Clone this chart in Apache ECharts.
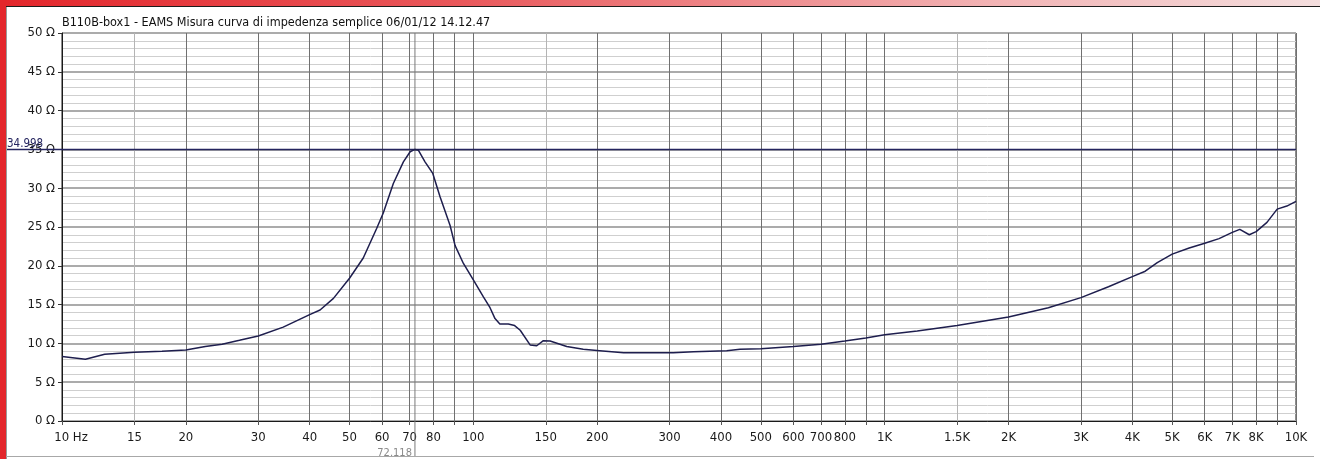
<!DOCTYPE html>
<html>
<head>
<meta charset="utf-8">
<script src="https://cdn.jsdelivr.net/npm/echarts@6/dist/echarts.min.js"></script>
<style>
html,body{margin:0;padding:0;background:#fff;}
#wrap{position:relative;width:1320px;height:459px;overflow:hidden;background:#fff;}
#chart{position:absolute;left:0;top:0;width:1320px;height:459px;}
.deco{position:absolute;pointer-events:none;}
#topbar{left:0;top:0;width:1320px;height:6px;background:linear-gradient(to right,#e3262b 0%,#e9585b 35%,#f2b3b4 75%,#f4dede 100%);}
#topline{left:6px;top:6px;width:1314px;height:1px;background:#1c1c1c;}
#leftbar{left:0;top:0;width:6px;height:459px;background:#e3262b;}
#leftline{left:6px;top:7px;width:1px;height:452px;background:#9a9a9a;}
#bottomline{left:6px;top:456px;width:1308px;height:1px;background:#a8a8a8;}
</style>
</head>
<body>
<div id="wrap">
  <div id="chart"></div>
  <div class="deco" id="topbar"></div>
  <div class="deco" id="topline"></div>
  <div class="deco" id="leftbar"></div>
  <div class="deco" id="leftline"></div>
  <div class="deco" id="bottomline"></div>
</div>
<script>
// ---- data ----
const titleText = 'B110B-box1 - EAMS Misura curva di impedenza semplice 06/01/12 14.12.47';

const freqHz = [10, 11.4, 12.7, 15, 17.5, 20, 22.3, 24.5, 27, 30, 34.5, 40, 42.4, 45.7, 50, 54, 58.2, 60.4, 63.9, 67.6, 70.2, 72.118, 73.5, 76.3, 79.7, 83, 87.8, 90.3, 94.6, 100, 105.8, 109.8, 112.9, 116, 121.6, 126, 130, 137.4, 142.6, 148, 153.7, 168.7, 185, 203, 232, 306, 343, 413, 445, 500, 600, 700, 800, 900, 1000, 1200, 1500, 2000, 2500, 3000, 3500, 4000, 4300, 4600, 5000, 5500, 6000, 6500, 7000, 7300, 7700, 8000, 8500, 9000, 9500, 10000];
const impedanceOhm = [8.3, 7.95, 8.6, 8.85, 9.0, 9.15, 9.6, 9.9, 10.4, 10.95, 12.1, 13.7, 14.3, 15.8, 18.4, 21.0, 24.8, 26.8, 30.6, 33.4, 34.7, 34.998, 34.9, 33.4, 31.9, 28.9, 25.2, 22.6, 20.3, 18.2, 16.0, 14.6, 13.2, 12.5, 12.5, 12.3, 11.7, 9.8, 9.7, 10.35, 10.3, 9.6, 9.24, 9.06, 8.8, 8.8, 8.93, 9.06, 9.24, 9.3, 9.6, 9.9, 10.3, 10.7, 11.1, 11.6, 12.3, 13.4, 14.6, 15.9, 17.3, 18.6, 19.3, 20.4, 21.5, 22.3, 22.9, 23.5, 24.3, 24.7, 24.0, 24.4, 25.6, 27.3, 27.7, 28.3];

const xGridFreqs = [10, 15, 20, 30, 40, 50, 60, 70, 80, 90, 100, 150, 200, 300, 400, 500, 600, 700, 800, 900, 1000, 1500, 2000, 3000, 4000, 5000, 6000, 7000, 8000, 9000, 10000];
const xLabelFreqs = [10, 15, 20, 30, 40, 50, 60, 70, 80, 100, 150, 200, 300, 400, 500, 600, 700, 800, 1000, 1500, 2000, 3000, 4000, 5000, 6000, 7000, 8000, 10000];
const lightGridFreqs = [15, 150, 1500];
const yMin = 0, yMax = 50, yStep = 5;

const cursorFreq = 72.118;
const cursorOhm = 34.998;

// ---- styling ----
const FONT = "'Liberation Sans Narrow','Arial Narrow','DejaVu Sans Condensed',sans-serif";

function fmtHz(v) {
  const r = Math.round(v);
  if (r === 10) return '{p|}10 Hz';
  if (r >= 1000) return (r / 1000) + 'K';
  return String(r);
}

const splitColors = xGridFreqs.map(f => lightGridFreqs.indexOf(f) >= 0 ? '#b4b4b4' : '#707070');

const chart = echarts.init(document.getElementById('chart'), null, {renderer: 'canvas'});
chart.setOption({
  animation: false,
  backgroundColor: 'transparent',
  title: {
    text: titleText,
    left: 62, top: 16,
    padding: 0,
    textStyle: {fontFamily: FONT, fontSize: 12.5, fontWeight: 'normal', color: '#111'}
  },
  grid: {
    left: 62, top: 33, right: 24, bottom: 38,
    show: true, borderColor: '#1a1a1a', borderWidth: 1, backgroundColor: 'transparent'
  },
  xAxis: {
    type: 'log', logBase: 10, min: 10, max: 10000,
    axisLine: {show: true, lineStyle: {color: '#1a1a1a', width: 1}},
    axisTick: {show: true, length: 4, customValues: xGridFreqs, lineStyle: {color: '#555'}},
    axisLabel: {
      show: true, customValues: xLabelFreqs, formatter: fmtHz, margin: 10,
      fontFamily: FONT, fontSize: 13, color: '#1a1a1a', hideOverlap: false,
      rich: {p: {width: 18}}
    },
    splitLine: {show: true, lineStyle: {color: splitColors, width: 1}},
    minorTick: {show: false},
    minorSplitLine: {show: false}
  },
  yAxis: {
    type: 'value', min: yMin, max: yMax, interval: yStep,
    axisLine: {show: true, lineStyle: {color: '#1a1a1a', width: 1}},
    axisTick: {show: true, length: 4, lineStyle: {color: '#333'}},
    axisLabel: {formatter: '{value} Ω', margin: 7, fontFamily: FONT, fontSize: 13, color: '#1a1a1a'},
    splitLine: {show: true, lineStyle: {color: '#ababab', width: 2}},
    minorTick: {show: false, splitNumber: 5},
    minorSplitLine: {show: true, lineStyle: {color: '#cfcfcf', width: 1}}
  },
  series: [
    {
      type: 'custom',
      coordinateSystem: 'cartesian2d',
      clip: false,
      silent: true,
      z: 3,
      data: [[cursorFreq, cursorOhm]],
      renderItem: function (params, api) {
        const fx = api.value(0), oy = api.value(1);
        const p = api.coord([fx, oy]);
        const cs = params.coordSys;
        return {
          type: 'group',
          children: [
            {type: 'line', shape: {x1: p[0], y1: cs.y, x2: p[0], y2: cs.y + cs.height + 36},
             style: {stroke: '#7a7a7a', lineWidth: 1}},
            {type: 'line', shape: {x1: cs.x - 55, y1: p[1], x2: cs.x + cs.width, y2: p[1]},
             style: {stroke: '#24245e', lineWidth: 1.5}},
            {type: 'text', x: cs.x - 55, y: p[1] + 1,
             style: {text: oy.toFixed(3), fill: '#24245e', font: '11.5px ' + FONT, textAlign: 'left', textVerticalAlign: 'bottom'}},
            {type: 'text', x: p[0] - 3, y: cs.y + cs.height + 32,
             style: {text: fx.toFixed(3), fill: '#8a8a8a', font: '11px ' + FONT, textAlign: 'right', textVerticalAlign: 'middle'}}
          ]
        };
      }
    },
    {
      type: 'line',
      z: 4,
      symbol: 'none',
      smooth: false,
      lineStyle: {color: '#1e1e4e', width: 1.5},
      data: freqHz.map((f, i) => [f, impedanceOhm[i]])
    }
  ]
});
</script>
</body>
</html>
